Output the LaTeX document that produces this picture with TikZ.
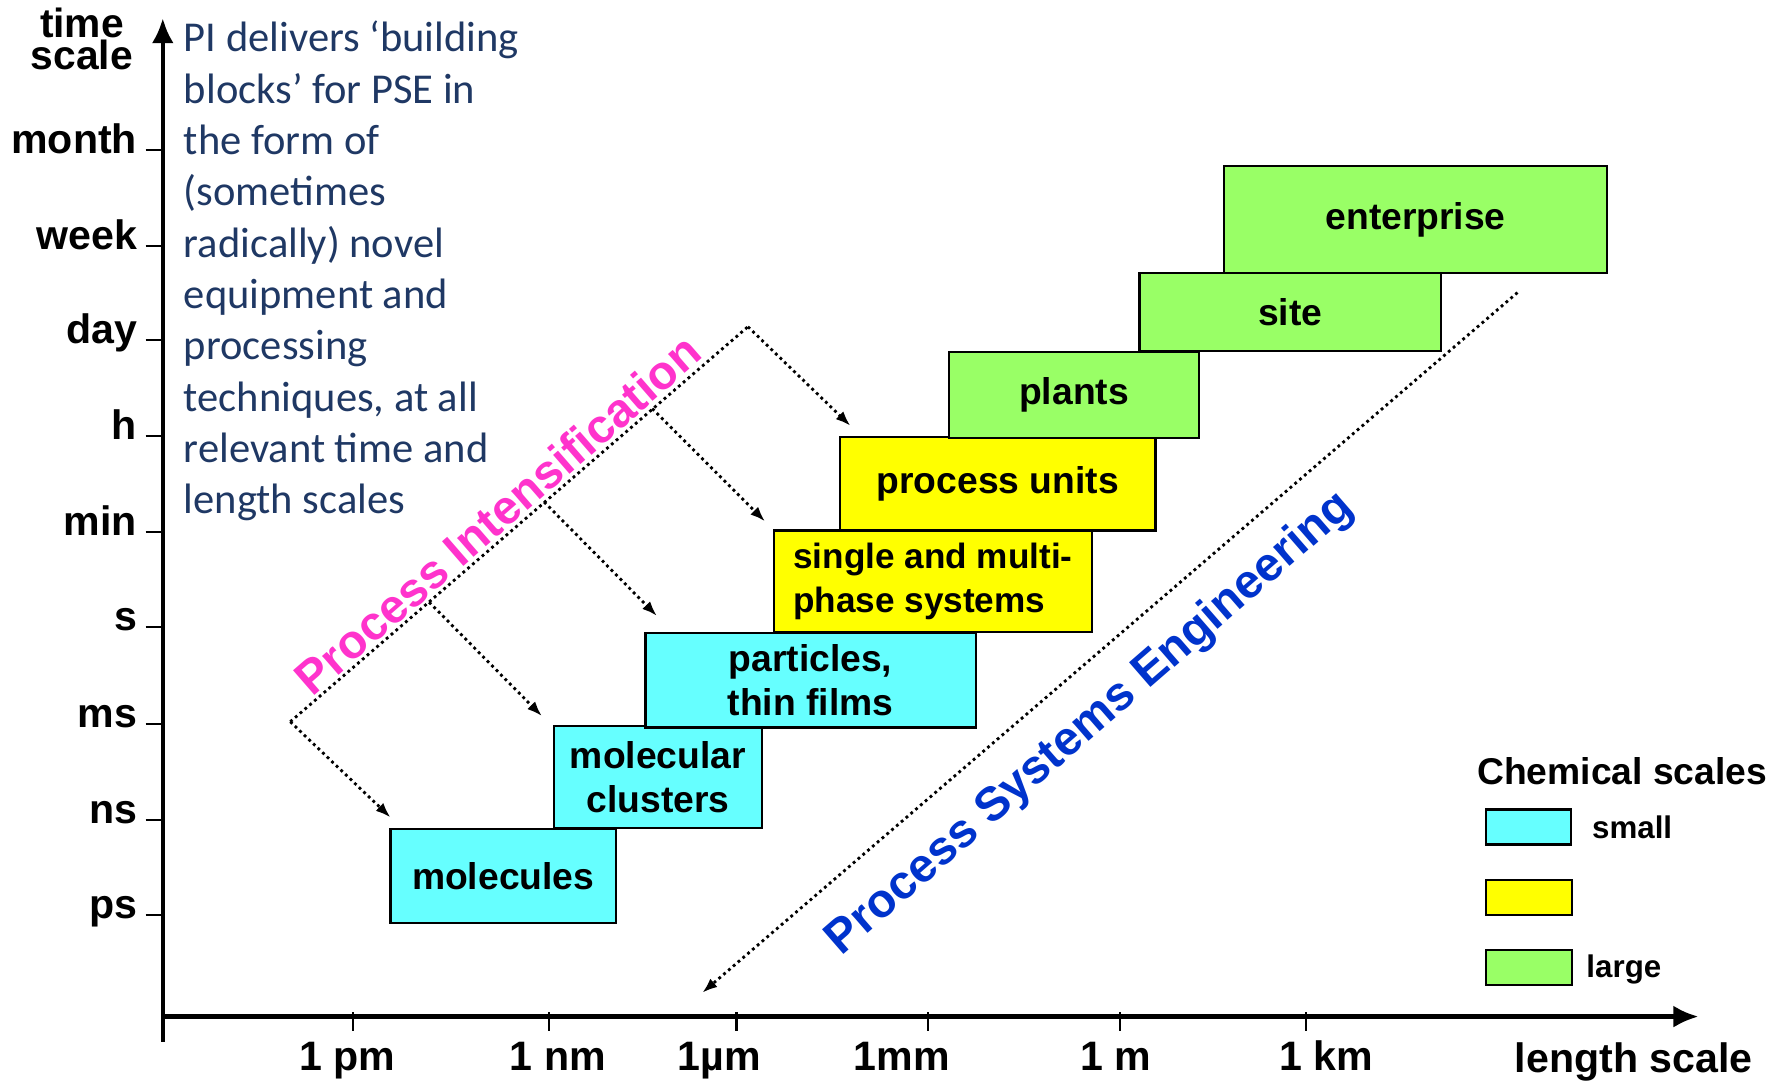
\documentclass[tikz,border=0pt]{standalone}
\usepackage{fontspec}
\setmainfont{Liberation Sans}
\newfontfamily\notefont{Carlito}
\usetikzlibrary{arrows.meta}

\definecolor{smallcol}{HTML}{66FFFF}
\definecolor{midcol}{HTML}{FFFF00}
\definecolor{largecol}{HTML}{99FF66}
\definecolor{picol}{HTML}{FF33CC}
\definecolor{psecol}{HTML}{0033CC}
\definecolor{notecol}{HTML}{1F3864}

\begin{document}
\begin{tikzpicture}[
    x=0.011384cm, y=-0.011384cm,
    box/.style={draw, line width=0.6pt, align=center, inner sep=0pt, font=\fontsize{10.6}{12.5}\selectfont\bfseries},
    legbox/.style={draw, line width=0.6pt, minimum width=0.854cm, minimum height=0.35cm, inner sep=0pt},
    legtext/.style={anchor=west, inner sep=0pt, font=\fontsize{8.9}{10}\selectfont\bfseries},
    axisline/.style={line width=1.2pt, -{Latex[length=0.25cm, width=0.22cm]}},
    tickline/.style={line width=0.6pt},
    ticklabel/.style={inner sep=0pt, font=\fontsize{11.7}{12}\selectfont\bfseries},
    pidots/.style={densely dotted, line width=0.8pt},
    piarrow/.style={pidots, -{Latex[length=0.15cm, width=0.11cm]}},
    bigtext/.style={rotate=41, inner sep=0pt, font=\fontsize{13.5}{14}\selectfont\bfseries}
]
    \useasboundingbox (0,0) rectangle (1568,952);

    % Axes
    \coordinate (origin) at (143,893);
    \draw[axisline] (143,915) -- (143,16);
    \draw[axisline] (origin) -- (1492,893);
    \node[inner sep=0pt, align=center, font=\fontsize{11.6}{9}\selectfont\bfseries] (timescale) at (72,34) {time\\scale};
    \node[ticklabel, anchor=base] (lengthscale) at (1435,942) {length scale};

    % Time ticks
    \foreach \ty/\tname in {132/month, 216/week, 299/day, 383/h, 467/min, 551/s, 636/ms, 720/ns, 804/ps} {
        \draw[tickline] (128,\ty) -- (143,\ty);
        \node[ticklabel, anchor=base east] (t-\tname) at (121,\ty+3) {\tname};
    }

    % Length ticks
    \foreach \tx/\lx/\tlabel/\tname in {310/305/1 pm/pm, 482/490/1 nm/nm, 647/632/1µm/um, 815/792/1mm/mm, 984/980/1 m/m, 1147/1165/1 km/km} {
        \draw[tickline] (\tx,889) -- (\tx,906);
        \node[ticklabel, anchor=base] (l-\tname) at (\lx,940) {\tlabel};
    }

    % Note
    \node[anchor=north west, align=left, inner sep=0pt, text=notecol, font=\notefont\fontsize{12.1}{14.6}\selectfont] (note) at (161,18)
        {PI delivers ‘building\\blocks’ for PSE in\\the form of\\(sometimes\\radically) novel\\equipment and\\processing\\techniques, at all\\relevant time and\\length scales};

    % Scale boxes
    \node[box, fill=smallcol, minimum width=2.254cm, minimum height=0.945cm] (molecules) at (442,769.5) {molecules};
    \node[box, fill=smallcol, minimum width=2.072cm, minimum height=1.013cm] (clusters) at (578,682.5) {molecular\\clusters};
    \node[box, fill=smallcol, minimum width=3.301cm, minimum height=0.945cm] (particles) at (712,597.5) {particles,\\thin films};
    \node[box, fill=midcol, minimum width=3.176cm, minimum height=1.013cm, align=left, font=\fontsize{10}{12.5}\selectfont\bfseries] (phases) at (819.5,510.5) {single and multi-\\phase systems};
    \node[box, fill=midcol, minimum width=3.153cm, minimum height=0.933cm] (units) at (876.5,425) {process units};
    \node[box, fill=largecol, minimum width=2.493cm, minimum height=0.865cm] (plants) at (943.5,347) {plants};
    \node[box, fill=largecol, minimum width=3.017cm, minimum height=0.774cm] (site) at (1133.5,274) {site};
    \node[box, fill=largecol, minimum width=3.836cm, minimum height=1.07cm] (enterprise) at (1243.5,193) {enterprise};

    % Process Intensification
    \coordinate (pibot) at (255,634);
    \coordinate (pitop) at (657,287);
    \coordinate (pia) at (377,529);
    \coordinate (pib) at (478,441);
    \coordinate (pic) at (573,359);
    \coordinate (tomolecules) at (343,718);
    \coordinate (toclusters) at (476,629);
    \coordinate (toparticles) at (577,541);
    \coordinate (tophases) at (672,458);
    \coordinate (tounits) at (747,374);
    \draw[pidots] (pibot) -- (pitop);
    \draw[piarrow] (pibot) -- (tomolecules);
    \draw[piarrow] (pia) -- (toclusters);
    \draw[piarrow] (pib) -- (toparticles);
    \draw[piarrow] (pic) -- (tophases);
    \draw[piarrow] (pitop) -- (tounits);
    \node[bigtext, text=picol] (pilabel) at (437,452) {Process Intensification};

    % Process Systems Engineering
    \coordinate (psetop) at (1333,257);
    \coordinate (pseend) at (617,872);
    \draw[piarrow] (psetop) -- (pseend);
    \node[bigtext, text=psecol] (pselabel) at (958,636) {Process Systems Engineering};

    % Legend
    \node[inner sep=0pt, font=\fontsize{10.6}{12}\selectfont\bfseries] (legtitle) at (1425,677) {Chemical scales};
    \node[legbox, fill=smallcol] (legsmall) at (1342.5,726.5) {};
    \node[legbox, fill=midcol] (legmid) at (1343,788) {};
    \node[legbox, fill=largecol] (leglarge) at (1343,849.5) {};
    \node[legtext] (smalltext) at (1398,727) {small};
    \node[legtext] (largetext) at (1393,852) {large};
\end{tikzpicture}
\end{document}
